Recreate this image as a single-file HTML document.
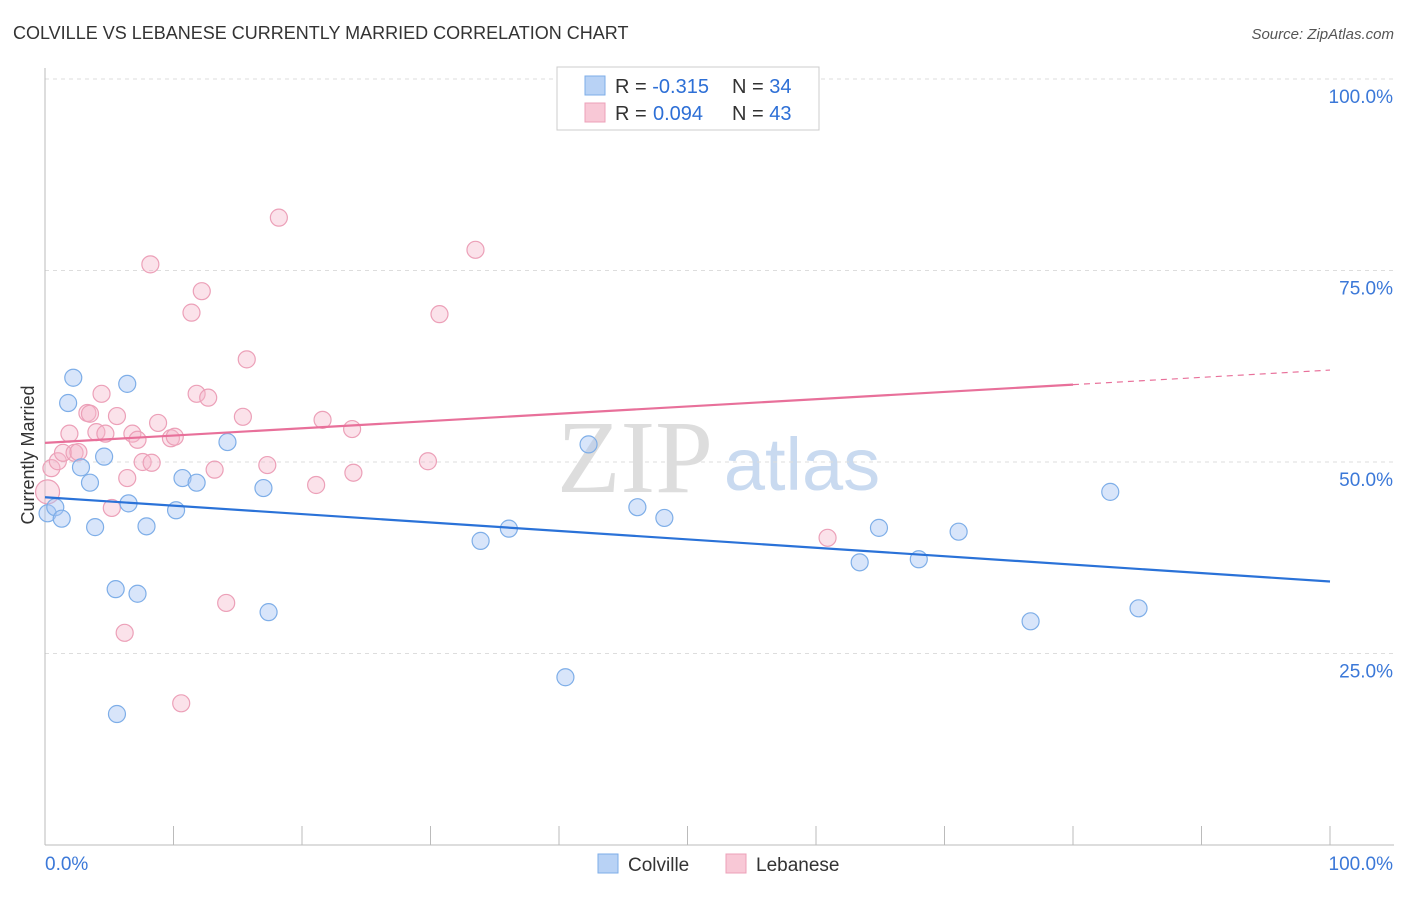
<!DOCTYPE html>
<html><head><meta charset="utf-8"><style>
body{margin:0;background:#fff;font-family:"Liberation Sans",sans-serif;}
</style></head><body>
<svg id="chart" width="1406" height="892" xmlns="http://www.w3.org/2000/svg">
<text x="13" y="39" font-size="18" fill="#333">COLVILLE VS LEBANESE CURRENTLY MARRIED CORRELATION CHART</text>
<text x="1394" y="39" font-size="15" fill="#555" font-style="italic" text-anchor="end">Source: ZipAtlas.com</text>
<text x="635" y="492" font-size="104" fill="#ddd" font-family="Liberation Serif,serif" text-anchor="middle">ZIP</text>
<text x="802" y="490" font-size="74" fill="#c9daf0" text-anchor="middle">atlas</text>
<text transform="translate(34,455) rotate(-90)" font-size="18" fill="#333" text-anchor="middle">Currently Married</text>
<g id="grid"></g><g id="axes"></g><g id="pts"></g><g id="trend"></g>
<g>
<rect x="557" y="67" width="262" height="63" fill="#fff" stroke="#ccc"/>
<rect x="585" y="76" width="20" height="19" fill="#b8d2f5" stroke="#7eaee8"/>
<rect x="585" y="103" width="20" height="19" fill="#f8c8d6" stroke="#eca0b8"/>
<text x="615" y="93" font-size="20" fill="#333">R = <tspan fill="#2d6fd6">-0.315</tspan><tspan x="732">N = </tspan><tspan fill="#2d6fd6">34</tspan></text>
<text x="615" y="120" font-size="20" fill="#333">R = <tspan x="653" fill="#2d6fd6">0.094</tspan><tspan x="732">N = </tspan><tspan fill="#2d6fd6">43</tspan></text>
</g>
<g>
<rect x="598" y="854" width="20" height="19" fill="#b8d2f5" stroke="#7eaee8"/>
<text x="628" y="871" font-size="19" fill="#333">Colville</text>
<rect x="726" y="854" width="20" height="19" fill="#f8c8d6" stroke="#eca0b8"/>
<text x="756" y="871" font-size="19" fill="#333">Lebanese</text>
</g>
</svg>
<script>
const blueX=[0.2,0.8,1.3,2.2,1.8,2.8,3.5,3.9,4.6,5.5,5.6,6.4,6.5,7.2,7.9,10.2,10.7,11.8,14.2,17.0,17.4,33.9,36.1,40.5,42.3,46.1,48.2,63.4,64.9,68.0,71.1,76.7,82.9,85.1];
const blueY=[43.3,44.1,42.6,61.0,57.7,49.3,47.3,41.5,50.7,33.4,17.1,60.2,44.6,32.8,41.6,43.7,47.9,47.3,52.6,46.6,30.4,39.7,41.3,21.9,52.3,44.1,42.7,36.9,41.4,37.3,40.9,29.2,46.1,30.9];
const pinkX=[0.2,0.5,1.0,1.4,1.9,2.3,2.6,3.3,3.5,4.0,4.4,4.7,5.2,5.6,6.2,6.4,6.8,7.2,7.6,8.2,8.3,8.8,9.8,10.1,10.6,11.4,11.8,12.2,12.7,13.2,14.1,15.4,15.7,17.3,18.2,21.1,21.6,23.9,24.0,29.8,30.7,33.5,60.9];
const pinkY=[46.1,49.2,50.1,51.2,53.7,51.2,51.3,56.4,56.3,53.9,58.9,53.7,44.0,56.0,27.7,47.9,53.7,52.9,50.0,75.8,49.9,55.1,53.1,53.3,18.5,69.5,58.9,72.3,58.4,49.0,31.6,55.9,63.4,49.6,81.9,47.0,55.5,54.3,48.6,50.1,69.3,77.7,40.1];
const blueTrend=[45.4,34.4];
const pinkTrend=[52.5,62.0];
const yTicks=[100,75,50,25];
const NS="http://www.w3.org/2000/svg";
const sx=v=>45+v*12.85, sy=v=>845-v*7.66;
function mk(tag,attrs,parent){const e=document.createElementNS(NS,tag);for(const k in attrs)e.setAttribute(k,attrs[k]);document.getElementById(parent).appendChild(e);return e;}
yTicks.forEach(t=>{
 const g=mk('line',{x1:45,x2:1394,y1:sy(t),y2:sy(t),stroke:'#ddd','stroke-dasharray':'4,4'},'grid');
 
 
 const l=mk('text',{x:1393,y:sy(t)+24,'font-size':19,fill:'#3b78d8','text-anchor':'end'},'grid');
 l.textContent=t.toFixed(1)+'%';
 
 
});
mk('line',{x1:45,x2:45,y1:68,y2:845,stroke:'#bbb'},'axes');
mk('line',{x1:45,x2:1394,y1:845,y2:845,stroke:'#bbb'},'axes');
for(let i=0;i<=10;i++){const x=sx(i*10);mk('line',{x1:x,x2:x,y1:826,y2:845,stroke:'#bbb'},'axes');}
let a=mk('text',{x:45,y:870,'font-size':19,fill:'#3b78d8'},'axes');a.textContent='0.0%';


a=mk('text',{x:1393,y:870,'font-size':19,fill:'#3b78d8','text-anchor':'end'},'axes');a.textContent='100.0%';


pinkX.forEach((v,i)=>{const c=mk('circle',{cx:sx(v),cy:sy(pinkY[i]),r:i==0?12:8.5,fill:'rgba(246,182,202,0.4)',stroke:'#eca0b8','stroke-width':1.2},'pts');
 
 });
blueX.forEach((v,i)=>{const c=mk('circle',{cx:sx(v),cy:sy(blueY[i]),r:8.5,fill:'rgba(168,198,243,0.45)',stroke:'#7eaee8','stroke-width':1.2},'pts');
 
 });
let t=mk('line',{x1:sx(0),y1:sy(blueTrend[0]),x2:sx(100),y2:sy(blueTrend[1]),stroke:'#2a72d8','stroke-width':2.2},'trend');


const pm=pinkTrend[0]+(pinkTrend[1]-pinkTrend[0])*0.8;
t=mk('line',{x1:sx(0),y1:sy(pinkTrend[0]),x2:sx(80),y2:sy(pm),stroke:'#e8709a','stroke-width':2.2},'trend');


t=mk('line',{x1:sx(80),y1:sy(pm),x2:sx(100),y2:sy(pinkTrend[1]),stroke:'#e8709a','stroke-width':1.2,'stroke-dasharray':'6,5'},'trend');


</script>
</body></html>
